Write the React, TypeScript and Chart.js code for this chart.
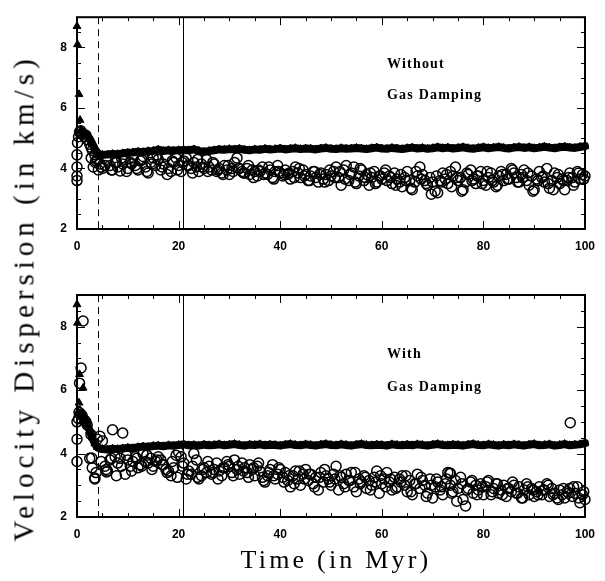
import React, { useEffect, useRef } from "react";
import { Chart, registerables } from "chart.js";

Chart.register(...registerables);

// ---------- axes ----------
const X_MIN = 0;
const X_MAX = 100;
const Y_MIN = 2;
const Y_MAX = 9;
const X_TICKS = [0, 20, 40, 60, 80, 100];
const Y_TICKS = [2, 4, 6, 8];
const X_MINOR_STEP = 5;
const Y_MINOR_STEP = 0.5;
const DASHED_X = 4.1;
const SOLID_X = 20.8;

// ---------- triangle series (band) ----------
const TRI_TIMES = [
  1, 1.5, 2, 2.5, 3, 3.5, 4, 4.5, 5,
  6, 7, 8, 9, 10, 11, 12, 13, 14, 15,
  16, 17, 18, 19, 20, 21, 22, 23, 24, 25,
  26, 27, 28, 29, 30, 31, 32, 33, 34, 35,
  36, 37, 38, 39, 40, 41, 42, 43, 44, 45,
  46, 47, 48, 49, 50, 51, 52, 53, 54, 55,
  56, 57, 58, 59, 60, 61, 62, 63, 64, 65,
  66, 67, 68, 69, 70, 71, 72, 73, 74, 75,
  76, 77, 78, 79, 80, 81, 82, 83, 84, 85,
  86, 87, 88, 89, 90, 91, 92, 93, 94, 95,
  96, 97, 98, 99, 100,
];
const TRI_TOP = [
  5.22, 5.18, 5.1, 4.98, 4.82, 4.65, 4.52, 4.46, 4.45,
  4.46, 4.48, 4.47, 4.5, 4.52, 4.53, 4.55, 4.54, 4.57, 4.58,
  4.62, 4.58, 4.6, 4.59, 4.6, 4.61, 4.6, 4.63, 4.58, 4.55,
  4.58, 4.6, 4.63, 4.62, 4.64, 4.63, 4.65, 4.62, 4.6, 4.63,
  4.62, 4.65, 4.63, 4.64, 4.66, 4.63, 4.65, 4.67, 4.64, 4.66,
  4.65, 4.63, 4.66, 4.68, 4.65, 4.64, 4.67, 4.65, 4.66, 4.68,
  4.66, 4.64, 4.67, 4.69, 4.66, 4.65, 4.68, 4.66, 4.64, 4.67,
  4.69, 4.66, 4.68, 4.65, 4.67, 4.7, 4.67, 4.69, 4.66, 4.68,
  4.7, 4.67, 4.65, 4.68, 4.7, 4.67, 4.69, 4.71, 4.68, 4.66,
  4.69, 4.71, 4.68, 4.7, 4.67, 4.69, 4.72, 4.69, 4.67, 4.7,
  4.72, 4.69, 4.68, 4.71, 4.74,
];
const TRI_BOTTOM = [
  5.22, 5.08, 4.9, 4.72, 4.5, 4.32, 4.2, 4.16, 4.14,
  4.13, 4.15, 4.14, 4.16, 4.18, 4.17, 4.2, 4.22, 4.21, 4.24,
  4.25, 4.23, 4.26, 4.25, 4.27, 4.29, 4.26, 4.27, 4.25, 4.28,
  4.26, 4.27, 4.29, 4.26, 4.28, 4.3, 4.27, 4.25, 4.28, 4.27,
  4.29, 4.26, 4.28, 4.27, 4.25, 4.28, 4.3, 4.27, 4.26, 4.29,
  4.27, 4.25, 4.28, 4.3, 4.27, 4.26, 4.29, 4.27, 4.25, 4.28,
  4.3, 4.27, 4.26, 4.28, 4.27, 4.25, 4.29, 4.27, 4.26, 4.28,
  4.26, 4.29, 4.27, 4.25, 4.28, 4.3, 4.27, 4.26, 4.28, 4.27,
  4.25, 4.28, 4.3, 4.27, 4.26, 4.29, 4.27, 4.25, 4.28, 4.26,
  4.29, 4.27, 4.25, 4.28, 4.3, 4.26, 4.27, 4.29, 4.25, 4.27,
  4.3, 4.26, 4.28, 4.29, 4.33,
];
const TRI_TOP_EARLY_T = [0, 0.1, 0.4, 0.6, 0.8];
const TRI_TOP_EARLY_V = [8.7, 8.1, 6.45, 5.6, 5.28];
const TRI_BOTTOM_EARLY_T = [0, 0.1, 0.5, 0.4, 1.2, 0.2, 0.6];
const TRI_BOTTOM_EARLY_V = [8.7, 8.12, 6.5, 5.6, 6.07, 5.3, 5.25];

// ---------- circle series ----------
const CIRC_TIMES = [
  1, 1.5, 2, 2.5, 3, 3.5, 4, 4.5, 5, 5.5,
  6, 6.5, 7, 7.5, 8, 8.5, 9, 9.5, 10, 10.5,
  11, 11.5, 12, 12.5, 13, 13.5, 14, 14.5, 15, 15.5,
  16, 16.5, 17, 17.5, 18, 18.5, 19, 19.5, 20, 20.5,
  21, 21.5, 22, 22.5, 23, 23.5, 24, 24.5, 25, 25.5,
  26, 26.5, 27, 27.5, 28, 28.5, 29, 29.5, 30, 30.5,
  31, 31.5, 32, 32.5, 33, 33.5, 34, 34.5, 35, 35.5,
  36, 36.5, 37, 37.5, 38, 38.5, 39, 39.5, 40, 40.5,
  41, 41.5, 42, 42.5, 43, 43.5, 44, 44.5, 45, 45.5,
  46, 46.5, 47, 47.5, 48, 48.5, 49, 49.5, 50, 50.5,
  51, 51.5, 52, 52.5, 53, 53.5, 54, 54.5, 55, 55.5,
  56, 56.5, 57, 57.5, 58, 58.5, 59, 59.5, 60, 60.5,
  61, 61.5, 62, 62.5, 63, 63.5, 64, 64.5, 65, 65.5,
  66, 66.5, 67, 67.5, 68, 68.5, 69, 69.5, 70, 70.5,
  71, 71.5, 72, 72.5, 73, 73.5, 74, 74.5, 75, 75.5,
  76, 76.5, 77, 77.5, 78, 78.5, 79, 79.5, 80, 80.5,
  81, 81.5, 82, 82.5, 83, 83.5, 84, 84.5, 85, 85.5,
  86, 86.5, 87, 87.5, 88, 88.5, 89, 89.5, 90, 90.5,
  91, 91.5, 92, 92.5, 93, 93.5, 94, 94.5, 95, 95.5,
  96, 96.5, 97, 97.5, 98, 98.5, 99, 99.5, 100,
];
const CIRC_TOP = [
  5.15, 5.05, 4.95, 4.8, 4.6, 4.45, 4.3, 4.15, 4.0, 4.1,
  4.25, 4.1, 3.95, 4.2, 4.05, 3.92, 4.15, 4.3, 4.0, 4.2,
  4.35, 4.1, 3.95, 4.25, 4.4, 4.05, 3.85, 4.2, 4.35, 4.1,
  4.3, 3.95, 4.15, 4.4, 4.0, 3.9, 4.2, 4.35, 4.1, 3.9,
  4.25, 4.35, 4.1, 4.0, 4.2, 4.05, 3.9, 4.15, 4.0, 4.3,
  4.05, 3.95, 4.15, 3.9, 4.0, 3.85, 4.1, 3.95, 3.8, 4.0,
  4.2, 4.35, 4.0, 3.9, 3.85, 4.0, 3.8, 3.95, 3.9, 3.75,
  3.9, 4.05, 3.85, 3.8, 3.95, 3.7, 3.9, 4.1, 3.85, 3.75,
  3.95, 3.8, 3.65, 3.9, 4.05, 3.85, 3.7, 3.95, 3.8, 3.6,
  3.75, 3.9, 3.7, 3.55, 3.85, 3.65, 3.8, 3.6, 3.75, 3.9,
  4.05, 3.7, 3.45, 3.95, 4.1, 3.6, 3.85, 4.05, 3.5, 3.75,
  3.95, 3.6, 3.8, 3.45, 3.7, 3.9, 3.55, 3.75, 3.65, 3.85,
  3.6, 3.75, 3.5, 3.85, 3.65, 3.55, 3.4, 3.7, 3.9, 3.6,
  3.3, 3.55, 3.75, 4.05, 3.8, 3.6, 3.45, 3.7, 3.55, 3.25,
  3.2, 3.6, 3.85, 3.65, 3.5, 3.9, 3.75, 4.05, 3.6, 3.7,
  3.3, 3.55, 3.8, 3.95, 3.65, 3.5, 3.75, 3.9, 3.6, 3.45,
  3.7, 3.85, 3.55, 3.4, 3.75, 3.9, 3.6, 3.8, 3.65, 4.0,
  3.85, 3.7, 3.55, 3.8, 3.95, 3.6, 3.45, 3.75, 3.3, 3.65,
  3.9, 3.7, 3.55, 4.0, 3.35, 3.6, 3.85, 3.7, 3.5, 3.65,
  3.3, 3.6, 3.85, 3.7, 3.55, 3.9, 3.65, 3.8, 3.75,
];
const CIRC_BOTTOM = [
  5.2, 5.05, 4.9, 3.85, 3.55, 3.2, 4.45, 4.55, 4.4, 3.6,
  3.45, 3.8, 4.75, 3.9, 3.7, 3.85, 4.65, 3.35, 3.8, 3.6,
  3.75, 3.9, 3.55, 3.65, 4.0, 3.75, 3.7, 3.85, 3.6, 3.75,
  3.9, 3.8, 3.65, 3.5, 3.45, 3.3, 3.55, 3.95, 4.05, 3.9,
  3.7, 3.2, 3.45, 3.35, 4.0, 3.8, 3.2, 3.3, 3.55, 3.4,
  3.6, 3.35, 3.5, 3.7, 3.45, 3.3, 3.55, 3.75, 3.6, 3.4,
  3.8, 3.5, 3.35, 3.7, 3.55, 3.4, 3.65, 3.5, 3.3, 3.6,
  3.45, 3.25, 3.1, 3.3, 3.5, 3.65, 3.2, 3.35, 3.5, 3.25,
  3.4, 3.15, 2.95, 3.3, 3.45, 3.2, 3.0, 3.35, 3.5, 3.15,
  3.35, 3.05, 3.25, 2.85, 3.4, 3.1, 3.3, 3.2, 3.0, 3.35,
  3.6, 2.85, 3.25, 3.05, 3.35, 3.15, 3.4, 2.95, 2.8, 3.2,
  3.1, 3.3, 2.9, 3.15, 3.0, 3.25, 3.45, 2.75, 3.05, 3.2,
  3.4, 3.1, 2.85, 3.25, 2.95, 3.2, 3.3, 3.0, 2.8, 3.15,
  2.7, 3.05, 3.35, 2.9, 3.15, 3.0, 2.75, 3.2, 2.6, 2.95,
  3.1, 2.85, 2.7, 3.05, 3.4, 3.0, 2.8, 3.15, 2.9, 3.25,
  2.55, 2.35, 2.9, 3.1, 2.75, 3.0, 2.85, 3.05, 2.7, 2.95,
  3.15, 2.7, 2.9, 3.05, 2.75, 2.85, 3.0, 2.65, 2.9, 2.8,
  3.0, 2.75, 2.95, 2.6, 2.85, 3.05, 2.7, 2.9, 2.65, 2.8,
  2.95, 2.7, 2.85, 3.05, 2.65, 2.9, 2.75, 2.6, 2.85, 2.7,
  2.6, 2.8, 2.9, 2.65, 2.75, 2.95, 2.45, 2.7, 2.55,
];
const CIRC_TIMES_B = [
  1.75, 2.75, 3.75, 4.75, 5.75, 6.75, 7.75, 8.75, 9.75, 10.75,
  11.75, 12.75, 13.75, 14.75, 15.75, 16.75, 17.75, 18.75, 19.75, 20.75,
  21.75, 22.75, 23.75, 24.75, 25.75, 26.75, 27.75, 28.75, 29.75, 30.75,
  31.75, 32.75, 33.75, 34.75, 35.75, 36.75, 37.75, 38.75, 39.75, 40.75,
  41.75, 42.75, 43.75, 44.75, 45.75, 46.75, 47.75, 48.75, 49.75, 50.75,
  51.75, 52.75, 53.75, 54.75, 55.75, 56.75, 57.75, 58.75, 59.75, 60.75,
  61.75, 62.75, 63.75, 64.75, 65.75, 66.75, 67.75, 68.75, 69.75, 70.75,
  71.75, 72.75, 73.75, 74.75, 75.75, 76.75, 77.75, 78.75, 79.75, 80.75,
  81.75, 82.75, 83.75, 84.75, 85.75, 86.75, 87.75, 88.75, 89.75, 90.75,
  91.75, 92.75, 93.75, 94.75, 95.75, 96.75, 97.75, 98.75, 99.75,
];
const CIRC_TOP_B = [
  5.1, 4.7, 4.25, 4.05, 4.3, 3.95, 4.2, 4.35, 3.9, 4.15,
  4.0, 4.3, 3.9, 4.15, 4.45, 4.05, 3.8, 4.25, 3.95, 4.2,
  4.1, 3.85, 4.3, 4.05, 3.9, 4.2, 3.95, 3.8, 4.1, 3.9,
  4.0, 3.85, 4.1, 3.7, 3.95, 3.8, 4.05, 3.65, 3.9, 3.8,
  3.85, 3.7, 4.0, 3.75, 3.6, 3.9, 3.8, 3.55, 3.95, 3.7,
  3.9, 3.65, 3.8, 3.55, 4.0, 3.7, 3.85, 3.5, 3.75, 3.95,
  3.7, 3.45, 3.8, 3.6, 3.35, 3.9, 3.65, 3.5, 3.15, 3.75,
  3.55, 3.8, 3.4, 3.7, 3.25, 3.85, 3.6, 3.75, 3.5, 3.9,
  3.6, 3.45, 3.8, 3.65, 3.95, 3.55, 3.7, 3.85, 3.25, 3.6,
  3.75, 3.5, 3.3, 3.8, 3.6, 3.7, 3.45, 3.85, 3.65,
];
const CIRC_BOTTOM_B = [
  5.0, 4.6, 3.4, 3.75, 3.5, 3.85, 3.3, 3.6, 3.95, 3.45,
  3.85, 3.6, 3.95, 3.5, 3.8, 3.65, 3.4, 3.75, 3.25, 3.6,
  3.35, 3.6, 3.25, 3.5, 3.75, 3.4, 3.2, 3.55, 3.65, 3.3,
  3.6, 3.45, 3.25, 3.55, 3.7, 3.15, 3.4, 3.3, 3.55, 3.1,
  3.3, 3.05, 3.45, 3.2, 3.35, 2.95, 3.25, 3.5, 3.1, 3.2,
  3.3, 2.95, 3.15, 3.4, 3.05, 3.25, 2.85, 3.1, 3.3, 2.95,
  3.2, 2.9, 3.1, 3.3, 2.8, 3.05, 3.25, 2.65, 3.0, 3.2,
  2.95, 3.2, 2.75, 2.5, 3.05, 2.85, 3.15, 2.7, 2.95, 3.1,
  2.8, 3.05, 2.7, 2.9, 3.1, 2.75, 2.6, 2.95, 2.85, 2.7,
  2.85, 3.0, 2.7, 2.55, 2.9, 2.75, 2.95, 2.6, 2.8,
];
const CIRC_TOP_EXTRA_T = [0, 0, 0, 0, 0.1, 0.3, 0.5, 0.7, 2.8, 3.2, 3.6, 4.2];
const CIRC_TOP_EXTRA_V = [3.6, 3.75, 4.05, 4.45, 4.85, 5.05, 5.2, 5.25, 4.35, 4.05, 4.2, 3.95];
const CIRC_BOTTOM_EXTRA_T = [0, 0, 0, 0.3, 0.5, 0.8, 1.2, 0.4, 0.7, 2.9, 3.5, 5.8, 73.4, 73.5, 97.1];
const CIRC_BOTTOM_EXTRA_V = [3.75, 4.45, 5.0, 5.1, 6.22, 6.7, 8.18, 5.3, 5.25, 3.86, 3.23, 3.42, 3.39, 3.37, 4.97];

const toPoints = (ts: number[], vs: number[]) => ts.map((t, i) => ({ x: t, y: vs[i] }));

const frameTicksPlugin = {
  id: "frameTicks",
  beforeDatasetsDraw(chart: any) {
    const { ctx, chartArea: a, scales } = chart;
    const xs = scales.x;
    ctx.save();
    ctx.strokeStyle = "#000";
    ctx.lineWidth = 1;
    const xd = Math.round(xs.getPixelForValue(DASHED_X)) + 0.5;
    ctx.setLineDash([7, 5]);
    ctx.beginPath();
    ctx.moveTo(xd, a.top);
    ctx.lineTo(xd, a.bottom);
    ctx.stroke();
    ctx.setLineDash([]);
    const xsol = Math.round(xs.getPixelForValue(SOLID_X)) + 0.5;
    ctx.beginPath();
    ctx.moveTo(xsol, a.top);
    ctx.lineTo(xsol, a.bottom);
    ctx.stroke();
    ctx.restore();
  },
  afterDatasetsDraw(chart: any) {
    const { ctx, chartArea: a, scales } = chart;
    const xs = scales.x;
    const ys = scales.y;
    ctx.save();
    ctx.strokeStyle = "#000";
    ctx.lineWidth = 1;
    ctx.beginPath();
    for (let v = X_MIN; v <= X_MAX + 1e-9; v += X_MINOR_STEP) {
      const major = X_TICKS.includes(v);
      const len = major ? 8 : 4;
      const px = Math.round(xs.getPixelForValue(v)) + 0.5;
      ctx.moveTo(px, a.bottom);
      ctx.lineTo(px, a.bottom - len);
      ctx.moveTo(px, a.top);
      ctx.lineTo(px, a.top + len);
    }
    for (let v = Y_MIN; v <= Y_MAX + 1e-9; v += Y_MINOR_STEP) {
      const major = Y_TICKS.includes(v);
      const len = major ? 8 : 4;
      const py = Math.round(ys.getPixelForValue(v)) + 0.5;
      ctx.moveTo(a.left, py);
      ctx.lineTo(a.left + len, py);
      ctx.moveTo(a.right, py);
      ctx.lineTo(a.right - len, py);
    }
    ctx.stroke();
    ctx.lineWidth = 2;
    ctx.strokeRect(a.left, a.top, a.right - a.left, a.bottom - a.top);
    ctx.restore();
  },
};

const tickFont = { family: "'Liberation Sans', Arial, sans-serif", size: 12, weight: "bold" };

type Pt = { x: number; y: number };
type PanelProps = {
  top: number;
  height: number;
  padTop: number;
  xAxisH: number;
  triEarly: Pt[];
  band: Pt[];
  circ: Pt[];
};

function Panel({ top, height, padTop, xAxisH, triEarly, band, circ }: PanelProps) {
  const ref = useRef<HTMLCanvasElement | null>(null);
  useEffect(() => {
    if (!ref.current) return;
    const chart = new Chart(ref.current, {
      type: "scatter",
      data: {
        datasets: [
          {
            data: triEarly,
            pointStyle: "triangle",
            pointRadius: 4.5,
            pointBackgroundColor: "#000",
            pointBorderColor: "#000",
            pointBorderWidth: 1,
            showLine: false,
            clip: false,
          },
          {
            data: band,
            pointStyle: "triangle",
            pointRadius: 4.5,
            pointBackgroundColor: "#000",
            pointBorderColor: "#000",
            pointBorderWidth: 1,
            showLine: true,
            borderColor: "#000",
            borderWidth: 8,
            borderJoinStyle: "round",
            borderCapStyle: "round",
            tension: 0,
            clip: false,
          },
          {
            data: circ,
            pointStyle: "circle",
            pointRadius: 5,
            pointBackgroundColor: "rgba(0,0,0,0)",
            pointBorderColor: "#000",
            pointBorderWidth: 1.5,
            showLine: false,
            clip: false,
          },
        ],
      },
      options: {
        animation: false,
        responsive: false,
        maintainAspectRatio: false,
        devicePixelRatio: 1,
        events: [],
        layout: { padding: { top: padTop, right: 10, bottom: 0, left: 0 } },
        plugins: { legend: { display: false }, tooltip: { enabled: false } },
        scales: {
          x: {
            type: "linear",
            min: X_MIN,
            max: X_MAX,
            grid: { display: false, drawTicks: false },
            border: { display: false },
            ticks: { padding: 10, color: "#000", font: tickFont, maxRotation: 0, autoSkip: false },
            afterBuildTicks: (s: any) => {
              s.ticks = X_TICKS.map((v) => ({ value: v }));
            },
            afterFit: (s: any) => {
              s.height = xAxisH;
            },
          },
          y: {
            type: "linear",
            min: Y_MIN,
            max: Y_MAX,
            grid: { display: false, drawTicks: false },
            border: { display: false },
            ticks: { padding: 10, color: "#000", font: tickFont, autoSkip: false },
            afterBuildTicks: (s: any) => {
              s.ticks = Y_TICKS.map((v) => ({ value: v }));
            },
            afterFit: (s: any) => {
              s.width = 77;
            },
          },
        },
      } as any,
      plugins: [frameTicksPlugin],
    });
    return () => chart.destroy();
  }, []);
  return (
    <canvas
      ref={ref}
      width={605}
      height={height}
      style={{ position: "absolute", left: 0, top, width: 605, height }}
    />
  );
}

const noteStyle: React.CSSProperties = {
  position: "absolute",
  left: 387,
  fontFamily: "'Liberation Serif', 'Times New Roman', serif",
  fontWeight: "bold",
  fontSize: 14,
  lineHeight: "14px",
  letterSpacing: 1.2,
  whiteSpace: "nowrap",
  color: "#000",
};

export default function App() {
  const triTopEarly = toPoints(TRI_TOP_EARLY_T, TRI_TOP_EARLY_V);
  const triBottomEarly = toPoints(TRI_BOTTOM_EARLY_T, TRI_BOTTOM_EARLY_V);
  const bandTop = toPoints(TRI_TIMES, TRI_TOP);
  const bandBottom = toPoints(TRI_TIMES, TRI_BOTTOM);
  const circTop = [
    ...toPoints(CIRC_TOP_EXTRA_T, CIRC_TOP_EXTRA_V),
    ...toPoints(CIRC_TIMES, CIRC_TOP),
    ...toPoints(CIRC_TIMES_B, CIRC_TOP_B),
  ];
  const circBottom = [
    ...toPoints(CIRC_BOTTOM_EXTRA_T, CIRC_BOTTOM_EXTRA_V),
    ...toPoints(CIRC_TIMES, CIRC_BOTTOM),
    ...toPoints(CIRC_TIMES_B, CIRC_BOTTOM_B),
  ];
  return (
    <div style={{ position: "fixed", left: 0, top: 0, width: 605, height: 581, background: "#fff", overflow: "hidden" }}>
      <Panel top={0} height={262} padTop={3} xAxisH={33} triEarly={triTopEarly} band={bandTop} circ={circTop} />
      <Panel top={262} height={319} padTop={33} xAxisH={64} triEarly={triBottomEarly} band={bandBottom} circ={circBottom} />
      <div style={{ ...noteStyle, top: 57 }}>Without</div>
      <div style={{ ...noteStyle, top: 88 }}>Gas Damping</div>
      <div style={{ ...noteStyle, top: 347 }}>With</div>
      <div style={{ ...noteStyle, top: 380 }}>Gas Damping</div>
      <div
        style={{
          position: "absolute",
          left: 24,
          top: 298,
          transform: "translate(-50%, -50%) rotate(-90deg)",
          fontFamily: "'Liberation Serif', 'Times New Roman', serif",
          fontSize: 29,
          lineHeight: "29px",
          letterSpacing: 5,
          whiteSpace: "nowrap",
          color: "#000",
        }}
      >
        Velocity Dispersion (in km/s)
      </div>
      <div
        style={{
          position: "absolute",
          left: 336,
          top: 547,
          transform: "translateX(-50%)",
          fontFamily: "'Liberation Serif', 'Times New Roman', serif",
          fontSize: 26,
          lineHeight: "26px",
          letterSpacing: 3.2,
          whiteSpace: "nowrap",
          color: "#000",
        }}
      >
        Time (in Myr)
      </div>
    </div>
  );
}
